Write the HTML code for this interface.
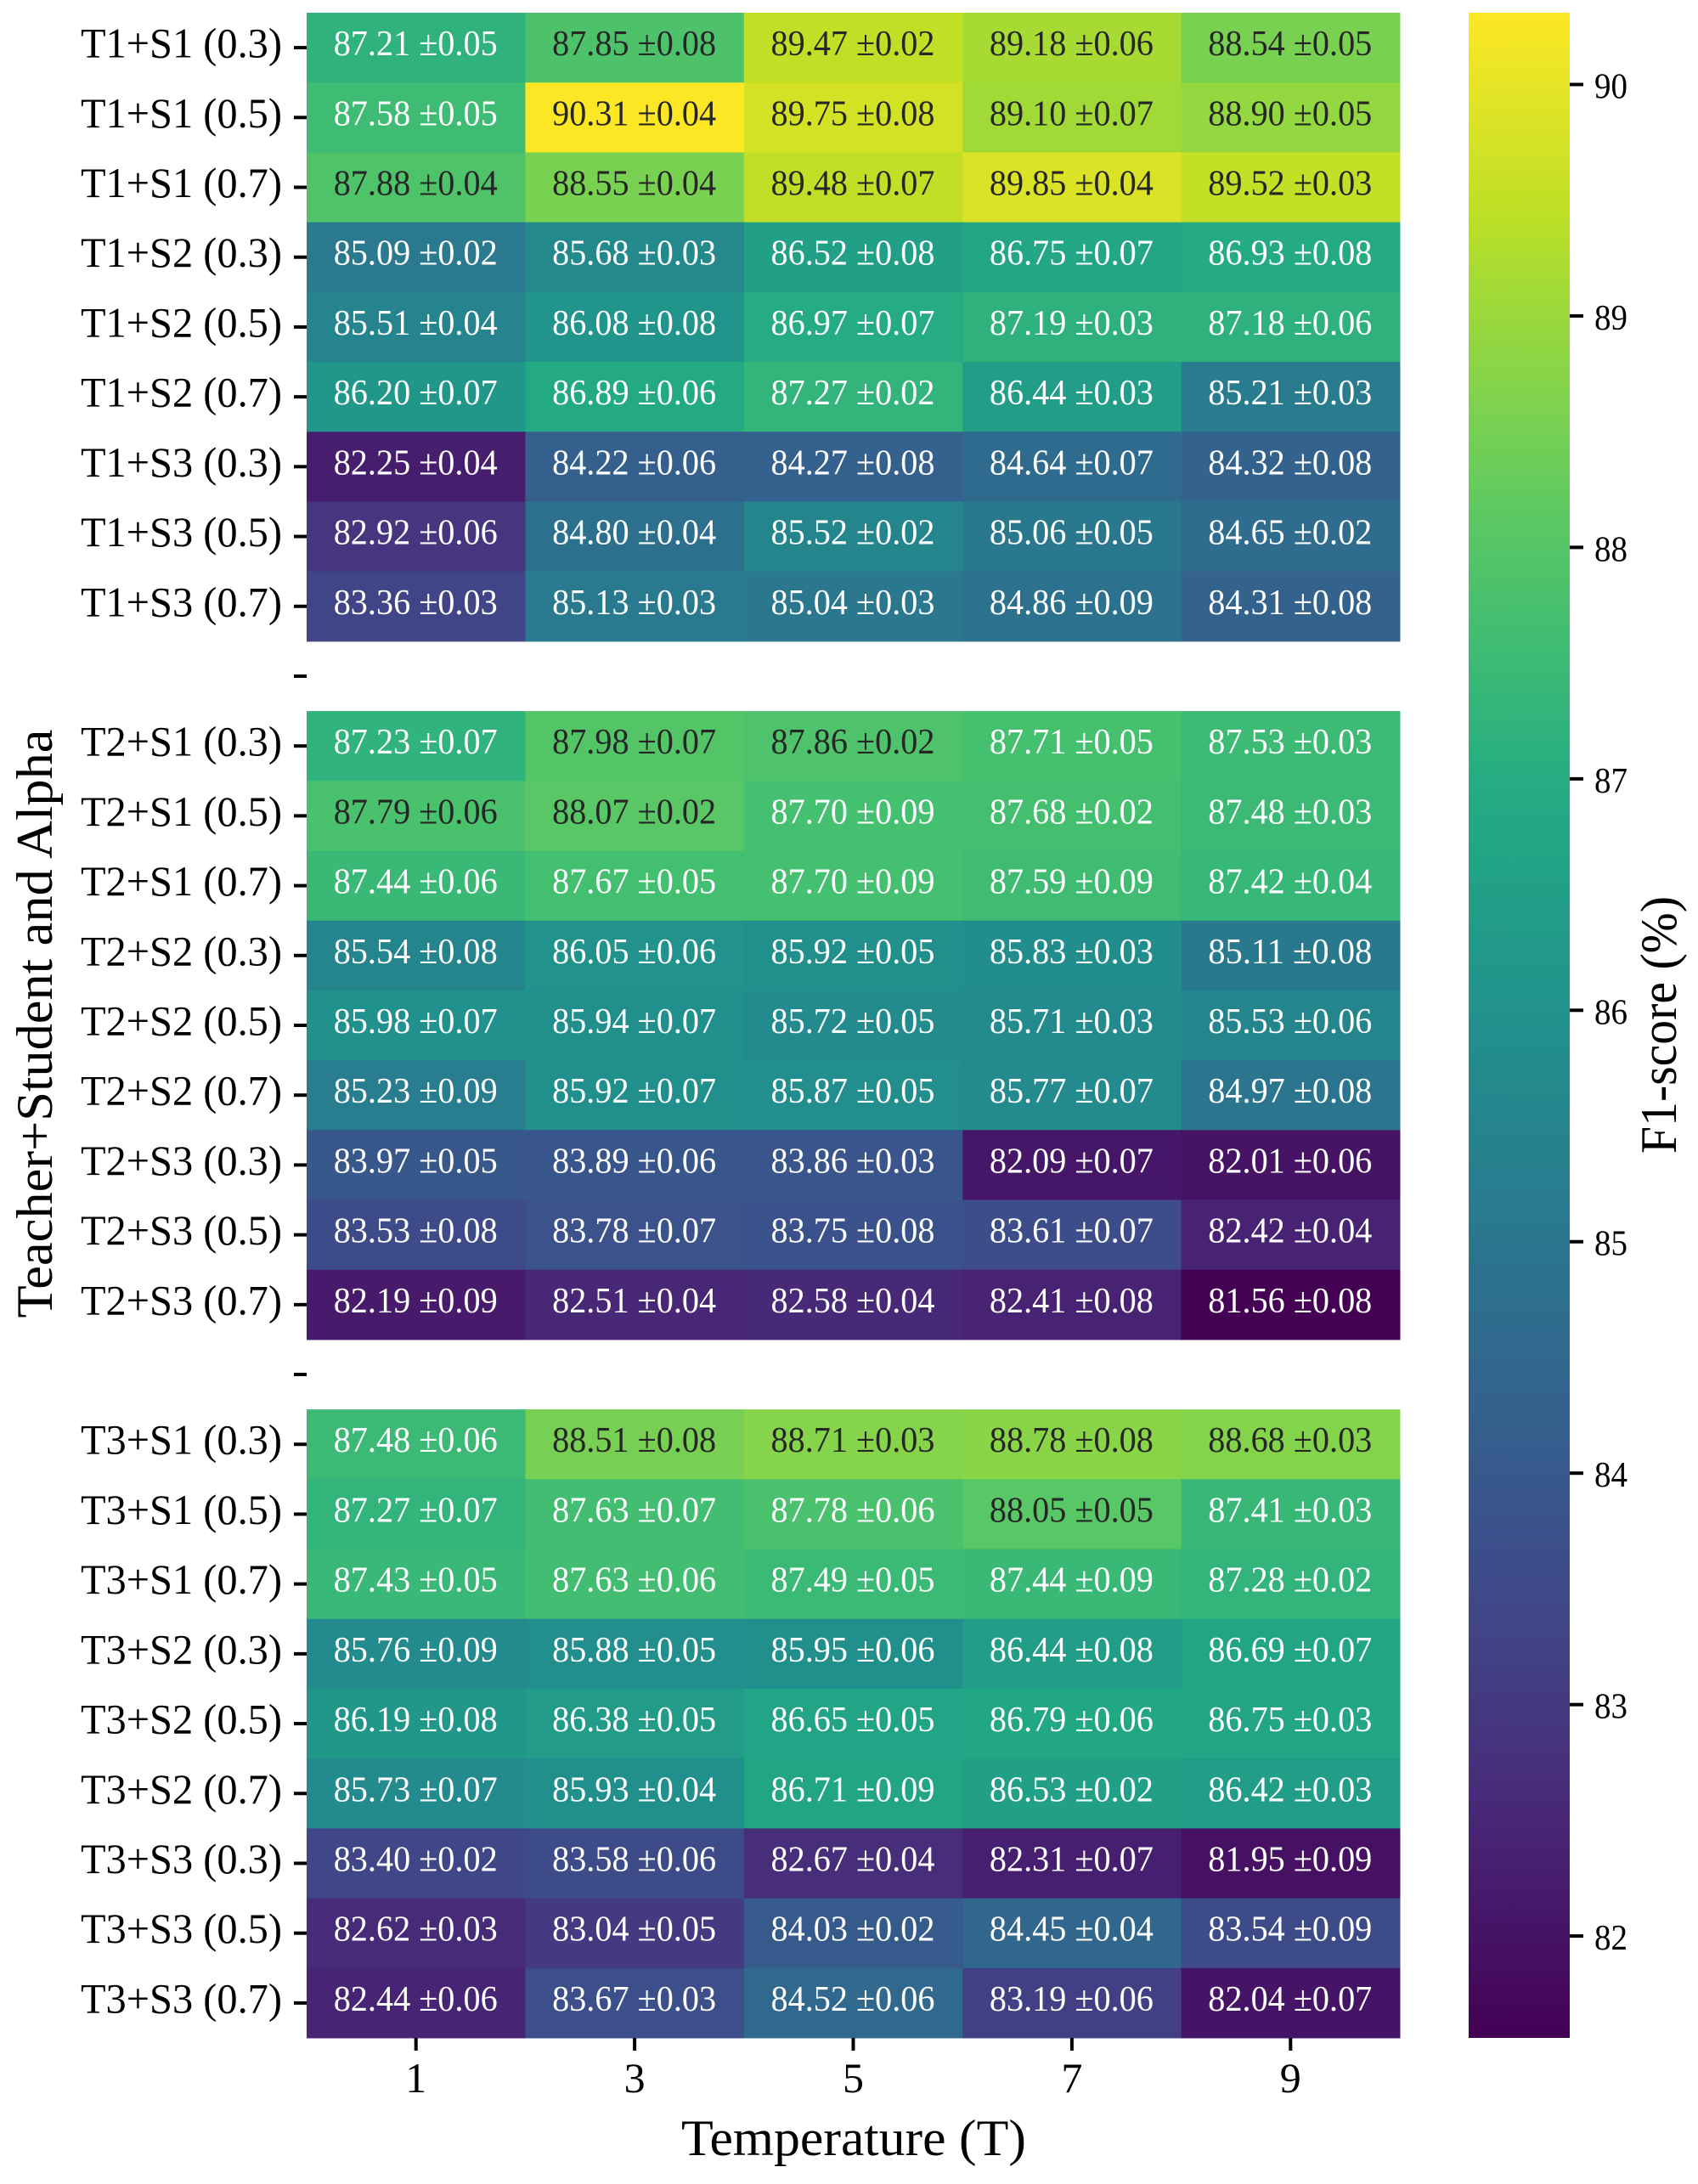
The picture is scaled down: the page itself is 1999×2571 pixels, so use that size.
<!DOCTYPE html>
<html lang="en">
<head>
<meta charset="utf-8">
<title>F1-score heatmap</title>
<style>
  html, body { margin: 0; padding: 0; background: #ffffff; }
  svg { display: block; font-family: "Liberation Serif", serif; }
</style>
</head>
<body>
<svg id="chart" xmlns="http://www.w3.org/2000/svg" width="1999" height="2571" viewBox="0 0 1999 2571">
  <defs>
    <linearGradient id="viridis-gradient" x1="0" y1="1" x2="0" y2="0"></linearGradient>
  </defs>
  <rect x="0" y="0" width="1999" height="2571" fill="#ffffff"></rect>
  <g id="cells"></g>
  <g id="annotations"></g>
  <g id="y-axis"></g>
  <g id="x-axis"></g>
  <g id="colorbar"></g>
  <text x="1005" y="2537" font-size="60" text-anchor="middle" textLength="406" lengthAdjust="spacingAndGlyphs" fill="#000">Temperature (T)</text>
  <text transform="translate(61 1205) rotate(-90)" x="0" y="0" font-size="60" text-anchor="middle" textLength="693" lengthAdjust="spacingAndGlyphs" fill="#000">Teacher+Student and Alpha</text>
  <text transform="translate(1973 1206.5) rotate(-90)" x="0" y="0" font-size="60" text-anchor="middle" textLength="303" lengthAdjust="spacingAndGlyphs" fill="#000">F1-score (%)</text>
</svg>
<script>
// ---- Data ----
const temperatures = [1, 3, 5, 7, 9];

const rowLabels = [
  "T1+S1 (0.3)", "T1+S1 (0.5)", "T1+S1 (0.7)",
  "T1+S2 (0.3)", "T1+S2 (0.5)", "T1+S2 (0.7)",
  "T1+S3 (0.3)", "T1+S3 (0.5)", "T1+S3 (0.7)",
  "",
  "T2+S1 (0.3)", "T2+S1 (0.5)", "T2+S1 (0.7)",
  "T2+S2 (0.3)", "T2+S2 (0.5)", "T2+S2 (0.7)",
  "T2+S3 (0.3)", "T2+S3 (0.5)", "T2+S3 (0.7)",
  "",
  "T3+S1 (0.3)", "T3+S1 (0.5)", "T3+S1 (0.7)",
  "T3+S2 (0.3)", "T3+S2 (0.5)", "T3+S2 (0.7)",
  "T3+S3 (0.3)", "T3+S3 (0.5)", "T3+S3 (0.7)"
];

const f1Means = [
  [87.21, 87.85, 89.47, 89.18, 88.54],
  [87.58, 90.31, 89.75, 89.10, 88.90],
  [87.88, 88.55, 89.48, 89.85, 89.52],
  [85.09, 85.68, 86.52, 86.75, 86.93],
  [85.51, 86.08, 86.97, 87.19, 87.18],
  [86.20, 86.89, 87.27, 86.44, 85.21],
  [82.25, 84.22, 84.27, 84.64, 84.32],
  [82.92, 84.80, 85.52, 85.06, 84.65],
  [83.36, 85.13, 85.04, 84.86, 84.31],
  null,
  [87.23, 87.98, 87.86, 87.71, 87.53],
  [87.79, 88.07, 87.70, 87.68, 87.48],
  [87.44, 87.67, 87.70, 87.59, 87.42],
  [85.54, 86.05, 85.92, 85.83, 85.11],
  [85.98, 85.94, 85.72, 85.71, 85.53],
  [85.23, 85.92, 85.87, 85.77, 84.97],
  [83.97, 83.89, 83.86, 82.09, 82.01],
  [83.53, 83.78, 83.75, 83.61, 82.42],
  [82.19, 82.51, 82.58, 82.41, 81.56],
  null,
  [87.48, 88.51, 88.71, 88.78, 88.68],
  [87.27, 87.63, 87.78, 88.05, 87.41],
  [87.43, 87.63, 87.49, 87.44, 87.28],
  [85.76, 85.88, 85.95, 86.44, 86.69],
  [86.19, 86.38, 86.65, 86.79, 86.75],
  [85.73, 85.93, 86.71, 86.53, 86.42],
  [83.40, 83.58, 82.67, 82.31, 81.95],
  [82.62, 83.04, 84.03, 84.45, 83.54],
  [82.44, 83.67, 84.52, 83.19, 82.04]
];

const f1Errors = [
  [0.05, 0.08, 0.02, 0.06, 0.05],
  [0.05, 0.04, 0.08, 0.07, 0.05],
  [0.04, 0.04, 0.07, 0.04, 0.03],
  [0.02, 0.03, 0.08, 0.07, 0.08],
  [0.04, 0.08, 0.07, 0.03, 0.06],
  [0.07, 0.06, 0.02, 0.03, 0.03],
  [0.04, 0.06, 0.08, 0.07, 0.08],
  [0.06, 0.04, 0.02, 0.05, 0.02],
  [0.03, 0.03, 0.03, 0.09, 0.08],
  null,
  [0.07, 0.07, 0.02, 0.05, 0.03],
  [0.06, 0.02, 0.09, 0.02, 0.03],
  [0.06, 0.05, 0.09, 0.09, 0.04],
  [0.08, 0.06, 0.05, 0.03, 0.08],
  [0.07, 0.07, 0.05, 0.03, 0.06],
  [0.09, 0.07, 0.05, 0.07, 0.08],
  [0.05, 0.06, 0.03, 0.07, 0.06],
  [0.08, 0.07, 0.08, 0.07, 0.04],
  [0.09, 0.04, 0.04, 0.08, 0.08],
  null,
  [0.06, 0.08, 0.03, 0.08, 0.03],
  [0.07, 0.07, 0.06, 0.05, 0.03],
  [0.05, 0.06, 0.05, 0.09, 0.02],
  [0.09, 0.05, 0.06, 0.08, 0.07],
  [0.08, 0.05, 0.05, 0.06, 0.03],
  [0.07, 0.04, 0.09, 0.02, 0.03],
  [0.02, 0.06, 0.04, 0.07, 0.09],
  [0.03, 0.05, 0.02, 0.04, 0.09],
  [0.06, 0.03, 0.06, 0.06, 0.07]
];

const colorbarTicks = [82, 83, 84, 85, 86, 87, 88, 89, 90];

const viridisColors = [
  [0, "#440154"], [0.1, "#482475"], [0.125, "#472c7a"], [0.2, "#414487"], [0.25, "#3b518b"],
  [0.3, "#355f8d"], [0.375, "#2c718e"], [0.4, "#2a788e"], [0.5, "#21908d"], [0.6, "#22a884"],
  [0.625, "#27ad81"], [0.7, "#44bf70"], [0.75, "#5cc863"], [0.8, "#7ad151"], [0.875, "#aadc32"],
  [0.9, "#bddf26"], [1, "#fde725"]
];

const darkTextFromValue = 87.785;

// ---- Layout ----
const NS = "http://www.w3.org/2000/svg";
const plotLeft = 361, plotRight = 1648, plotTop = 15, plotBottom = 2399;
const barLeft = 1729, barRight = 1848;
const cellWidth = (plotRight - plotLeft) / temperatures.length;
const cellHeight = (plotBottom - plotTop) / rowLabels.length;

const allValues = f1Means.flatMap(function (r) { return r || []; });
const vmin = Math.min.apply(null, allValues);
const vmax = Math.max.apply(null, allValues);

function xBand(i) { return plotLeft + i * cellWidth; }
function yBand(i) { return plotTop + i * cellHeight; }
function norm(v) { return (v - vmin) / (vmax - vmin); }
function barY(v) { return plotTop + (vmax - v) / (vmax - vmin) * (plotBottom - plotTop); }

function hexToRgb(h) {
  return [parseInt(h.slice(1, 3), 16), parseInt(h.slice(3, 5), 16), parseInt(h.slice(5, 7), 16)];
}
function colorFor(v) {
  const t = Math.max(0, Math.min(1, norm(v)));
  for (let k = 1; k < viridisColors.length; k++) {
    if (t <= viridisColors[k][0]) {
      const a = viridisColors[k - 1], b = viridisColors[k];
      const f = (t - a[0]) / (b[0] - a[0]);
      const ca = hexToRgb(a[1]), cb = hexToRgb(b[1]);
      return "rgb(" + ca.map(function (c, j) { return Math.round(c + (cb[j] - c) * f); }).join(",") + ")";
    }
  }
  return viridisColors[viridisColors.length - 1][1];
}
function make(tag, parent) {
  const el = document.createElementNS(NS, tag);
  parent.appendChild(el);
  return el;
}
function setAll(el, attrs) {
  Object.keys(attrs).forEach(function (k) { el.setAttribute(k, attrs[k]); });
}

const cellsG = document.getElementById("cells");
const annG = document.getElementById("annotations");
const yAxisG = document.getElementById("y-axis");
const xAxisG = document.getElementById("x-axis");
const barG = document.getElementById("colorbar");

// ---- Heatmap cells and annotations ----
f1Means.forEach(function (row, r) {
  if (!row) return;
  row.forEach(function (v, c) {
    const rect = make("rect", cellsG);
    
    
    setAll(rect, {
      x: xBand(c), y: yBand(r),
      width: cellWidth + 0.5, height: cellHeight + 0.5,
      fill: colorFor(v)
    });
    const txt = make("text", annG);
    
    
    setAll(txt, {
      x: xBand(c) + cellWidth / 2 - 0.5,
      y: yBand(r) + cellHeight / 2 + 9,
      "font-size": 42,
      "text-anchor": "middle",
      textLength: 193, lengthAdjust: "spacingAndGlyphs",
      fill: v >= darkTextFromValue ? "#262626" : "#ffffff"
    });
    txt.textContent = v.toFixed(2) + " \u00b1" + f1Errors[r][c].toFixed(2);
  });
});

// ---- Y axis ----
rowLabels.forEach(function (label, r) {
  const yc = yBand(r) + cellHeight / 2;
  const tick = make("line", yAxisG);
  
  
  setAll(tick, { x1: plotLeft - 15, x2: plotLeft, y1: yc, y2: yc, stroke: "#000", "stroke-width": 4 });
  if (label) {
    const t = make("text", yAxisG);
    
    
    setAll(t, {
      x: 332, y: yc + 11.5, "font-size": 50, "text-anchor": "end",
      textLength: 237, lengthAdjust: "spacingAndGlyphs", fill: "#000"
    });
    t.textContent = label;
  }
});

// ---- X axis ----
temperatures.forEach(function (temp, c) {
  const xc = xBand(c) + cellWidth / 2;
  const tick = make("line", xAxisG);
  
  
  setAll(tick, { x1: xc, x2: xc, y1: plotBottom, y2: plotBottom + 15, stroke: "#000", "stroke-width": 4 });
  const t = make("text", xAxisG);
  
  
  setAll(t, { x: xc, y: 2463, "font-size": 50, "text-anchor": "middle", fill: "#000" });
  t.textContent = String(temp);
});

// ---- Colorbar ----
const grad = document.getElementById("viridis-gradient");
viridisColors.forEach(function (s) {
  const stop = make("stop", grad);
  setAll(stop, { offset: s[0], "stop-color": s[1] });
});
const barRect = make("rect", barG);


setAll(barRect, {
  x: barLeft, y: plotTop, width: barRight - barLeft,
  height: plotBottom - plotTop, fill: "url(#viridis-gradient)"
});
colorbarTicks.forEach(function (v) {
  const y = barY(v);
  const tick = make("line", barG);
  
  
  setAll(tick, { x1: barRight, x2: barRight + 16, y1: y, y2: y, stroke: "#000", "stroke-width": 4 });
  const t = make("text", barG);
  
  
  setAll(t, { x: 1877, y: y + 16, "font-size": 42, textLength: 39, lengthAdjust: "spacingAndGlyphs", fill: "#000" });
  t.textContent = String(v);
});
</script>
</body>
</html>
